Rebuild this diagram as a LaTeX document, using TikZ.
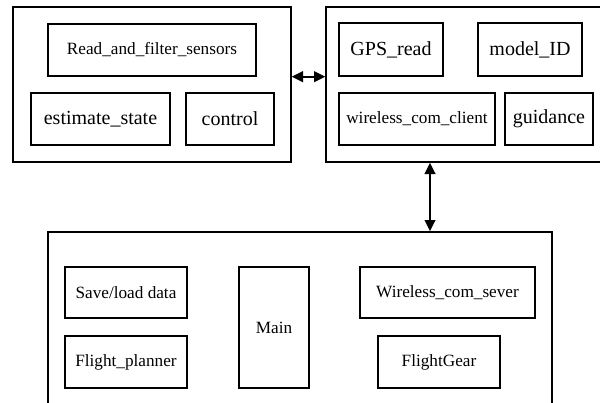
\documentclass[tikz,border=0pt]{standalone}
\usepackage{fontspec}
\setmainfont{Liberation Serif}
\newfontfamily\tnr{Liberation Serif}
\usepackage{tikz}
\usetikzlibrary{arrows.meta}

\tikzset{
  blk/.style={draw,line width=1pt,inner sep=0pt,align=center},
  sz/.style 2 args={minimum width=#1*.75pt,minimum height=#2*.75pt},
  big/.style={font=\tnr\fontsize{15}{17}\selectfont},
  sml/.style={font=\tnr\fontsize{12.9}{15}\selectfont},
  link/.style={{Triangle[length=8.5pt,width=8pt]}-{Triangle[length=8.5pt,width=8pt]},line width=1.5pt}
}

\begin{document}
\begin{tikzpicture}[x=.75pt,y=-.75pt]
    \useasboundingbox (0,0) rectangle (600,403);
    \clip (0,0) rectangle (600,403);
    % containers
    \node[blk,sz={278}{155}] (boxA) at (152,84.5) {};
    \node[blk,sz={284}{155}] (boxB) at (468,84.5) {};
    \node[blk,sz={504}{183}] (boxC) at (300,323.5) {};
    % on board, left
    \node[blk,sml,sz={208}{52}] (rfs) at (152,50) {Read\_and\_filter\_sensors};
    \node[blk,big,sz={139}{52}] (est) at (100.5,119) {estimate\_state};
    \node[blk,big,sz={88}{52}] (ctrl) at (230,119) {control};
    % on board, right
    \node[blk,big,sz={104}{53}] (gps) at (391,49.5) {GPS\_read};
    \node[blk,big,sz={104}{53}] (mid) at (530,49.5) {model\_ID};
    \node[blk,sml,sz={156}{52}] (wcc) at (417,119) {wireless\_com\_client};
    \node[blk,big,sz={88}{52}] (guid) at (549,119) {guidance};
    % ground station
    \node[blk,sml,sz={122}{51}] (sld) at (126,292.5) {Save/load data};
    \node[blk,sml,sz={122}{52}] (fp) at (126,362) {Flight\_planner};
    \node[blk,sml,sz={70}{121}] (main) at (274,327.5) {Main};
    \node[blk,sml,sz={175}{51}] (wcs) at (447.5,292.5) {Wireless\_com\_sever};
    \node[blk,sml,sz={122}{52}] (fg) at (439,362) {FlightGear};
    % links
    \coordinate (down) at (430,0);
    \draw[link] (boxA.east |- gps.south) -- (boxB.west |- gps.south);
    \draw[link] (boxB.south -| down) -- (boxC.north -| down);
\end{tikzpicture}
\end{document}
